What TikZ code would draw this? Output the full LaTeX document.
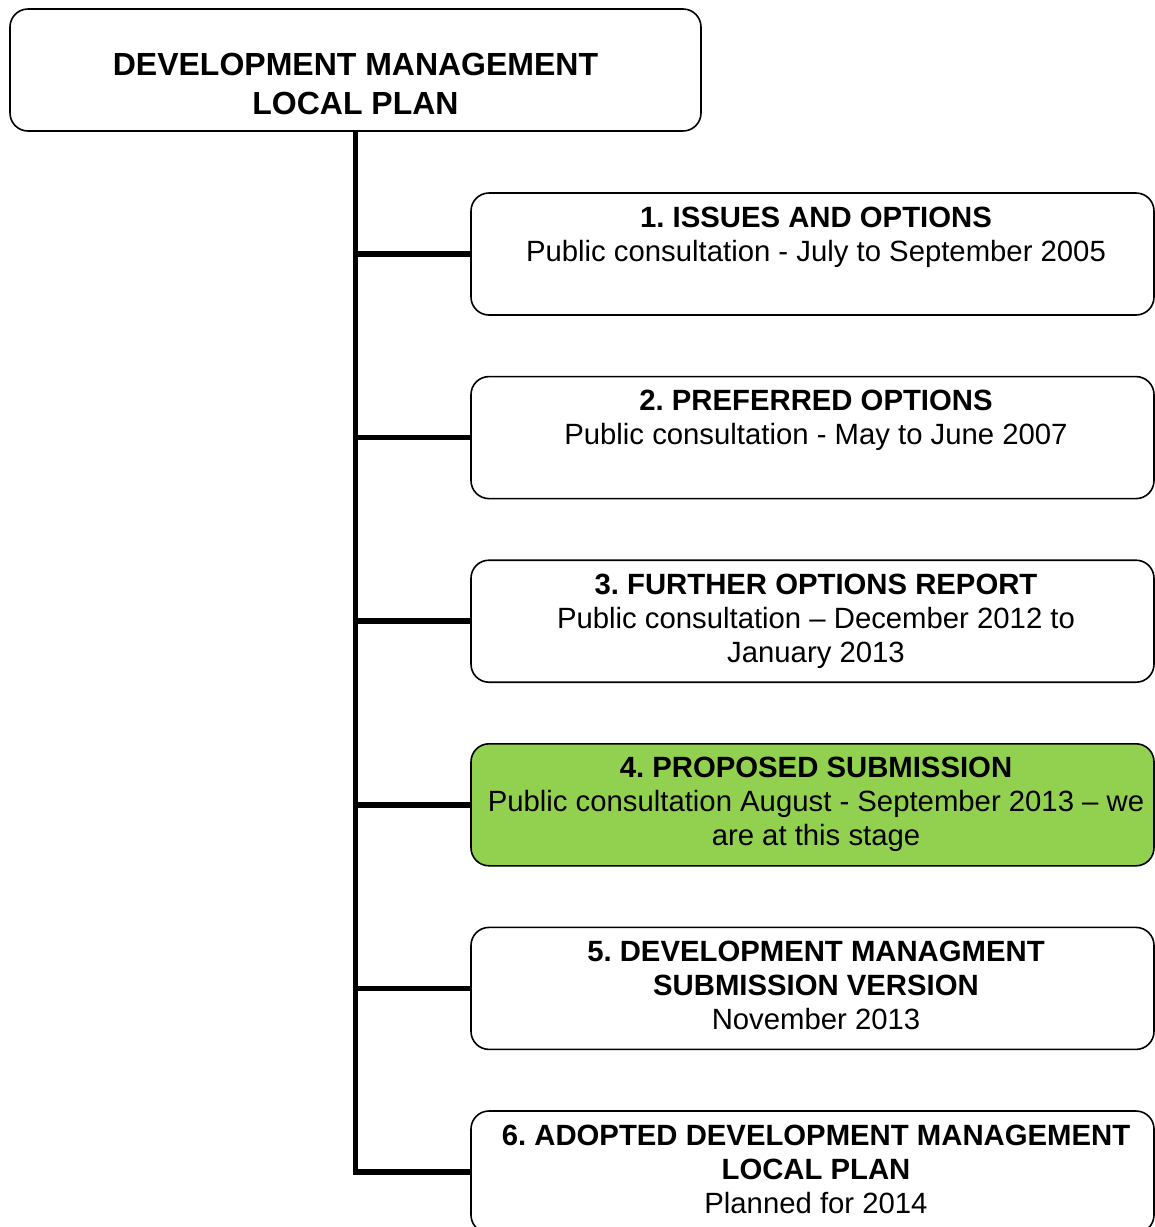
\documentclass[tikz,border=0pt]{standalone}
\usepackage{fontspec}
\setmainfont{Liberation Sans}
\usetikzlibrary{positioning}
\definecolor{stagegreen}{RGB}{146,208,80}
\frenchspacing
% text block at the top of a box: width, left shift, first baseline, text
\newcommand{\boxtext}[4]{\parbox[c][122pt][t]{#1}{\centering\leftskip=#2 plus 1fil\rule{0pt}{#3}#4}}

\begin{document}
\begin{tikzpicture}[
    x=1pt, y=-1pt,
    box/.style={
      draw,
      line width=1.6pt,
      rounded corners=18pt,
      inner sep=0pt,
      outer sep=0pt,
      fill=white
    },
    stage/.style={
      box,
      font=\fontsize{29.3pt}{34pt}\selectfont
    },
    stem/.style={line width=5.5pt}
  ]
    \useasboundingbox (0,0) rectangle (1155,1227);

    % plan box at the top
    \node[box, anchor=north west, font=\fontsize{32pt}{39pt}\selectfont] (dm) at (10,9)
      {\boxtext{691pt}{0pt}{66pt}{\textbf{DEVELOPMENT MANAGEMENT}\\\textbf{LOCAL PLAN}}};

    % the six stages
    \node[stage, anchor=north west] (s1) at (471,193)
      {\boxtext{683pt}{7pt}{34pt}{\textbf{1. ISSUES AND OPTIONS}\\Public consultation - July to September 2005}};
    \node[stage, below=61.6pt of s1] (s2)
      {\boxtext{683pt}{7pt}{34pt}{\textbf{2. PREFERRED OPTIONS}\\Public consultation - May to June 2007}};
    \node[stage, below=61.6pt of s2] (s3)
      {\boxtext{683pt}{7pt}{34pt}{\textbf{3. FURTHER OPTIONS REPORT}\\Public consultation -- December 2012 to\\January 2013}};
    \node[stage, below=61.6pt of s3, fill=stagegreen] (s4)
      {\boxtext{683pt}{7pt}{34pt}{\textbf{4. PROPOSED SUBMISSION}\\Public consultation August - September 2013 -- we\\are at this stage}};
    \node[stage, below=61.6pt of s4] (s5)
      {\boxtext{683pt}{7pt}{34pt}{\textbf{5. DEVELOPMENT MANAGMENT}\\\textbf{SUBMISSION VERSION}\\November 2013}};
    \node[stage, below=61.6pt of s5] (s6)
      {\boxtext{683pt}{7pt}{34pt}{\textbf{6. ADOPTED DEVELOPMENT MANAGEMENT}\\\textbf{LOCAL PLAN}\\Planned for 2014}};

    % trunk and branches
    \draw[stem] (dm.south) |- (s6.west);
    \foreach \i in {1,...,5}
      \draw[stem] (dm.south |- s\i.west) -- (s\i.west);

  \end{tikzpicture}
\end{document}
